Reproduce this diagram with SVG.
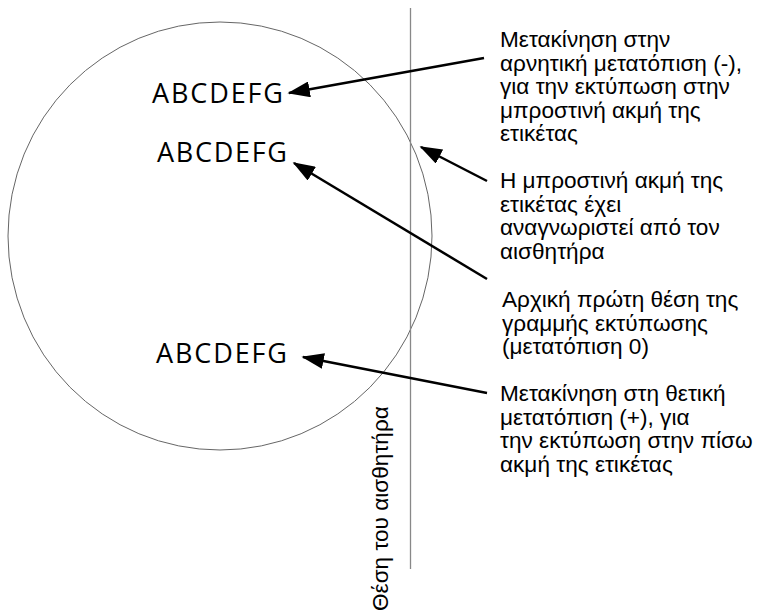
<svg xmlns="http://www.w3.org/2000/svg" width="770" height="615" viewBox="0 0 770 615">
<defs>
<style>
.lbl{font-family:"Liberation Sans",Arial,sans-serif;font-size:22.6px;fill:#000}
.abc{font-family:"Open Sans","DejaVu Sans",sans-serif;font-size:27px;fill:#000}
.conn line{stroke:#000;stroke-width:2.5;marker-end:url(#ah)}
</style>
<marker id="ah" viewBox="0 0 14 10" refX="13" refY="5" markerWidth="9" markerHeight="6.4" markerUnits="strokeWidth" orient="auto">
<path d="M0,0 L14,5 L0,10 z" fill="#000"/>
</marker>
</defs>
<rect width="770" height="615" fill="#fff"/>
<g id="label-area">
<ellipse cx="220" cy="236" rx="212" ry="214" fill="none" stroke="#666" stroke-width="1"/>
</g>
<g id="sensor">
<line x1="410.5" y1="8" x2="410.5" y2="569" stroke="#888" stroke-width="1.3"/>
<text class="lbl" transform="translate(388,611) rotate(-90)">Θέση του αισθητήρα</text>
</g>
<g id="print-neg"><text class="abc" x="152" y="103" textLength="131" lengthAdjust="spacing">ABCDEFG</text></g>
<g id="print-zero"><text class="abc" x="157" y="162" textLength="130" lengthAdjust="spacing">ABCDEFG</text></g>
<g id="print-pos"><text class="abc" x="156" y="363" textLength="131" lengthAdjust="spacing">ABCDEFG</text></g>
<g id="note1"><text class="lbl"><tspan x="500" y="47">Μετακίνηση στην</tspan><tspan x="500" y="70.5">αρνητική μετατόπιση (-),</tspan><tspan x="500" y="94">για την εκτύπωση στην</tspan><tspan x="500" y="117.5">μπροστινή ακμή της</tspan><tspan x="500" y="141">ετικέτας</tspan></text></g>
<g id="note2"><text class="lbl"><tspan x="500" y="188">Η μπροστινή ακμή της</tspan><tspan x="500" y="211.5">ετικέτας έχει</tspan><tspan x="500" y="235">αναγνωριστεί από τον</tspan><tspan x="500" y="258.5">αισθητήρα</tspan></text></g>
<g id="note3"><text class="lbl"><tspan x="502" y="307">Αρχική πρώτη θέση της</tspan><tspan x="502" y="330.5">γραμμής εκτύπωσης</tspan><tspan x="502" y="354">(μετατόπιση 0)</tspan></text></g>
<g id="note4"><text class="lbl"><tspan x="500" y="401">Μετακίνηση στη θετική</tspan><tspan x="500" y="424.5">μετατόπιση (+), για</tspan><tspan x="500" y="448">την εκτύπωση στην πίσω</tspan><tspan x="500" y="471.5">ακμή της ετικέτας</tspan></text></g>
<g id="connectors" class="conn">
<line x1="484" y1="58" x2="289" y2="93"/>
<line x1="487" y1="181" x2="421" y2="147"/>
<line x1="487" y1="279" x2="294" y2="163"/>
<line x1="487" y1="393" x2="303" y2="357"/>
</g>
</svg>
